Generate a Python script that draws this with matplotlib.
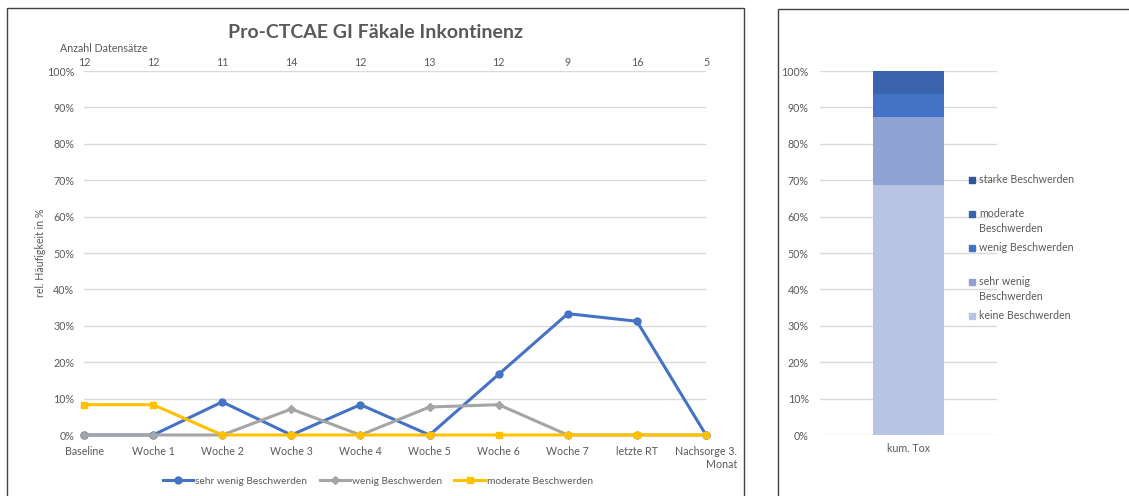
import matplotlib.pyplot as plt
from matplotlib.patches import Rectangle
from matplotlib.ticker import PercentFormatter

plt.rcParams['font.family'] = ['Lato', 'DejaVu Sans']

# Daten
zeitpunkte = ['Baseline', 'Woche 1', 'Woche 2', 'Woche 3', 'Woche 4', 'Woche 5',
              'Woche 6', 'Woche 7', 'letzte RT', 'Nachsorge 3.\nMonat']
anzahl = [12, 12, 11, 14, 12, 13, 12, 9, 16, 5]
sehr_wenig = [0, 0, 9.09, 0, 8.33, 0, 16.67, 33.33, 31.25, 0]
wenig = [0, 0, 0, 7.14, 0, 7.69, 8.33, 0, 0, 0]
moderat = [8.33, 8.33, 0, 0, 0, 0, 0, 0, 0, 0]

kum_kategorien = ['keine Beschwerden', 'sehr wenig\nBeschwerden', 'wenig Beschwerden',
                  'moderate\nBeschwerden', 'starke Beschwerden']
kum_werte = [68.75, 18.75, 6.25, 6.25, 0]
kum_farben = ['#B9C3E3', '#8FA2D4', '#4472C4', '#3A63AE', '#2F5597']

W, H = 1129, 496
fig = plt.figure(figsize=(W / 100, H / 100), dpi=100)
grau = '#595959'
fs = 7.7

def px(x0, y0, x1, y1):
    return [x0 / W, 1 - y1 / H, (x1 - x0) / W, (y1 - y0) / H]

# Rahmen
fig.patches.append(Rectangle((7 / W, -0.01), 737 / W, 1 - 8 / H + 0.01, transform=fig.transFigure,
                             fill=False, edgecolor='#404040', lw=1.0))
fig.patches.append(Rectangle((778 / W, -0.01), 1, 1 - 9 / H + 0.01, transform=fig.transFigure,
                             fill=False, edgecolor='#404040', lw=1.0))

# Liniendiagramm
ax = fig.add_axes(px(84, 71, 706, 435))
x = list(range(len(zeitpunkte)))
ax.plot(x, sehr_wenig, color='#4472C4', lw=2.2, marker='o', ms=5, label='sehr wenig Beschwerden', clip_on=False)
ax.plot(x, wenig, color='#A5A5A5', lw=2.2, marker='D', ms=4, label='wenig Beschwerden', clip_on=False)
ax.plot(x, moderat, color='#FFC000', lw=2.2, marker='s', ms=5, label='moderate Beschwerden', clip_on=False)
ax.set_xlim(0, len(x) - 1)
ax.set_ylim(0, 100)
ax.set_yticks(range(0, 101, 10))
ax.yaxis.set_major_formatter(PercentFormatter(decimals=0))
ax.grid(axis='y', color='#D9D9D9', lw=1)
ax.set_axisbelow(True)
ax.set_xticks(x)
ax.set_xticklabels(zeitpunkte, fontsize=fs, color=grau)
ax.get_xticklabels()[-1].set_multialignment('right')
ax.tick_params(axis='both', length=0, labelsize=fs, labelcolor=grau)
ax.tick_params(axis='y', pad=7)
ax.tick_params(axis='x', pad=8)
for s in ax.spines.values():
    s.set_visible(False)
ax.set_ylabel('rel. Häufigkeit in %', fontsize=fs, color=grau, labelpad=1)

ax2 = ax.twiny()
ax2.set_xlim(ax.get_xlim())
ax2.set_xticks(x)
ax2.set_xticklabels([str(a) for a in anzahl], fontsize=fs, color=grau)
ax2.tick_params(length=0, pad=2)
for s in ax2.spines.values():
    s.set_visible(False)

fig.text(60 / W, 1 - 48 / H, 'Anzahl Datensätze', fontsize=fs, color=grau, va='center')
fig.text(376 / W, 1 - 33 / H, 'Pro-CTCAE GI Fäkale Inkontinenz', fontsize=14, fontweight='bold',
         color=grau, ha='center', va='center')

ax.legend(loc='center', bbox_to_anchor=(378 / W, 1 - 481 / H), bbox_transform=fig.transFigure,
          ncol=3, frameon=False, fontsize=7.3, labelcolor=grau, handlelength=3.0,
          columnspacing=1.2, handletextpad=0.2)

# Kumulatives Balkendiagramm
bx = fig.add_axes(px(820, 71, 997, 435))
unten = 0
for wert, farbe, name in zip(kum_werte, kum_farben, kum_kategorien):
    bx.bar(['kum. Tox'], [wert], bottom=unten, width=0.4, color=farbe, label=name)
    unten += wert
bx.set_xlim(-0.5, 0.5)
bx.set_ylim(0, 100)
bx.set_yticks(range(0, 101, 10))
bx.yaxis.set_major_formatter(PercentFormatter(decimals=0))
bx.grid(axis='y', color='#D9D9D9', lw=1)
bx.set_axisbelow(True)
bx.tick_params(axis='both', length=0, labelsize=fs, labelcolor=grau)
bx.tick_params(axis='y', pad=8)
bx.tick_params(axis='x', pad=6)
for s in bx.spines.values():
    s.set_visible(False)

# Legende rechts (wie Excel: je Eintrag gleicher Abstand, Text oben ausgerichtet)
for i, (name, farbe) in enumerate(zip(kum_kategorien[::-1], kum_farben[::-1])):
    yc = 180 + 34 * i
    fig.patches.append(Rectangle((969 / W, 1 - (yc + 3) / H), 6 / W, 6 / H,
                                 transform=fig.transFigure, color=farbe))
    fig.text(979 / W, 1 - (yc - 6) / H, name, fontsize=fs, color=grau, va='top',
             linespacing=1.45)

fig.savefig('out.png', dpi=100)
